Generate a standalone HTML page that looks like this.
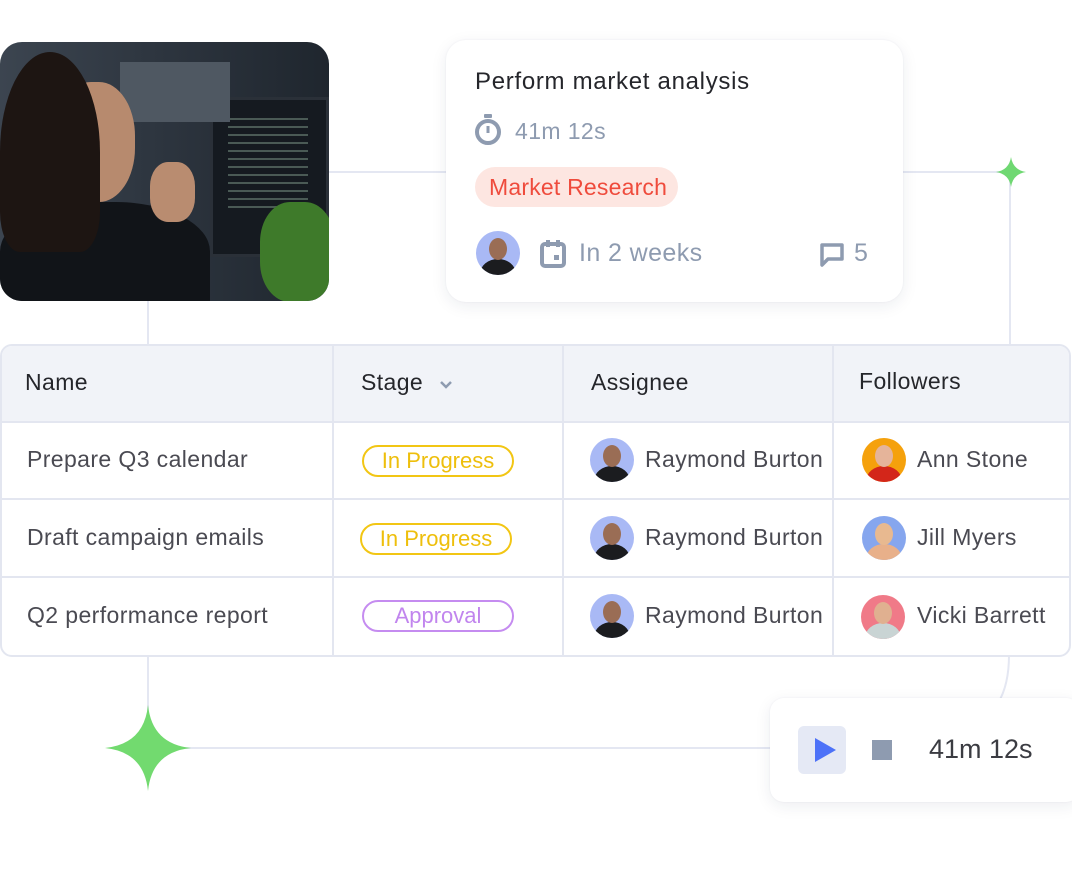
<!DOCTYPE html>
<html><head><style>
*{margin:0;padding:0;box-sizing:border-box}
body{width:1072px;height:878px;background:#fff;position:relative;overflow:hidden;font-family:"Liberation Sans",sans-serif}
.a{position:absolute}
.ln{position:absolute;background:#e4e7f2}
.av{position:absolute;width:44px;height:44px;border-radius:50%;overflow:hidden}
.av .f{position:absolute;left:13px;top:7px;width:18px;height:22px;border-radius:50%}
.av .b{position:absolute;left:4px;top:28px;width:36px;height:30px;border-radius:50%}
.t{position:absolute;font-size:23px;color:#4a4a52;white-space:nowrap;letter-spacing:0.4px}
.pill{position:absolute;height:32px;border:2px solid;border-radius:16px;font-size:22px;text-align:center;line-height:28px}
.vl{position:absolute;top:344px;width:2px;height:312px;background:#e3e6f0}
.hl{position:absolute;left:0;width:1070px;height:2px;background:#e3e6f0}
</style></head><body>
<div class="ln" style="left:329px;top:171px;width:120px;height:2px"></div>
<div class="ln" style="left:900px;top:171px;width:112px;height:2px"></div>
<div class="ln" style="left:1009px;top:172px;width:2px;height:174px"></div>
<div class="ln" style="left:147px;top:300px;width:2px;height:46px"></div>
<div class="ln" style="left:147px;top:656px;width:2px;height:92px"></div>
<div class="ln" style="left:148px;top:747px;width:625px;height:2px"></div>
<svg class="a" style="left:990px;top:655px" width="30" height="50"><path d="M19 0 Q19 30 8 48" stroke="#e4e7f2" stroke-width="2" fill="none"/></svg>
<svg class="a" style="left:996px;top:157px" width="30" height="30"><path d="M15 0 Q17 13 30 15 Q17 17 15 30 Q13 17 0 15 Q13 13 15 0Z" fill="#6fd872"/></svg>
<svg class="a" style="left:105px;top:705px" width="86" height="86"><path d="M43 0 Q47 39 86 43 Q47 47 43 86 Q39 47 0 43 Q39 39 43 0Z" fill="#72da6f"/></svg>
<div class="a" style="left:0;top:42px;width:329px;height:259px;border-radius:22px;overflow:hidden;background:linear-gradient(90deg,#3c4550 0%,#2e3640 45%,#1f262e 100%)">
 <div class="a" style="left:210px;top:55px;width:119px;height:160px;background:#151a20;border:3px solid #2a3038"></div>
 <div class="a" style="left:228px;top:70px;width:80px;height:100px;background:repeating-linear-gradient(#151a20 0 6px,#4a5a55 6px 8px)"></div>
 <div class="a" style="left:120px;top:20px;width:110px;height:60px;background:#4f5862"></div>
 <div class="a" style="left:260px;top:160px;width:75px;height:100px;border-radius:40%;background:#3e7a2a"></div>
 <div class="a" style="left:0;top:160px;width:210px;height:110px;border-radius:45% 45% 0 0;background:#111418"></div>
 <div class="a" style="left:55px;top:40px;width:80px;height:120px;border-radius:45%;background:#b78a6e"></div>
 <div class="a" style="left:0;top:10px;width:100px;height:200px;border-radius:50% 50% 20% 20%;background:#1d1512"></div>
 <div class="a" style="left:150px;top:120px;width:45px;height:60px;border-radius:40%;background:#b98c70"></div>
</div>
<div class="a" style="left:446px;top:40px;width:457px;height:262px;border-radius:20px;background:#fff;box-shadow:0 4px 16px rgba(30,40,80,.08),0 0 2px rgba(30,40,80,.06)"></div>
<div class="t" style="left:475px;top:68px;font-size:24px;color:#25262b;letter-spacing:0.7px">Perform market analysis</div>
<svg class="a" style="left:474px;top:114px" width="28" height="32"><rect x="10" y="0" width="8" height="4" rx="1" fill="#8e9bb0"/><circle cx="14" cy="18" r="11" stroke="#8e9bb0" stroke-width="4" fill="none"/><rect x="12.5" y="12" width="3" height="7" fill="#8e9bb0"/></svg>
<div class="t" style="left:515px;top:118px;color:#8e9bb0">41m 12s</div>
<div class="a" style="left:475px;top:167px;width:203px;height:40px;border-radius:20px;background:#fde6e1"></div>
<div class="t" style="left:489px;top:174px;color:#ef4b3c;letter-spacing:0.2px">Market Research</div>
<div class="av" style="left:476px;top:231px;background:#a9b9f5"><div class="b" style="background:#1b1c1f"></div><div class="f" style="background:#9a6d55"></div></div>
<svg class="a" style="left:540px;top:240px" width="28" height="28"><rect x="2" y="4" width="22" height="22" rx="3" stroke="#8e9bb0" stroke-width="4" fill="none"/><rect x="6" y="0" width="4" height="7" fill="#8e9bb0"/><rect x="16" y="0" width="4" height="7" fill="#8e9bb0"/><rect x="14" y="15" width="5" height="5" fill="#8e9bb0"/></svg>
<div class="t" style="left:579px;top:239px;font-size:25px;color:#8e9bb0">In 2 weeks</div>
<svg class="a" style="left:820px;top:243px" width="26" height="24"><path d="M2 2H22V16H8L2 22Z" stroke="#8e9bb0" stroke-width="3.5" fill="none" stroke-linejoin="round"/></svg>
<div class="t" style="left:854px;top:239px;font-size:25px;color:#8e9bb0">5</div>
<div class="a" style="left:0;top:344px;width:1071px;height:313px;border:2px solid #e3e6f0;border-radius:12px;background:#fff;overflow:hidden">
 <div class="a" style="left:0;top:0;width:1071px;height:77px;background:#f1f3f8"></div>
</div>
<div class="hl" style="top:421px"></div>
<div class="hl" style="top:498px"></div>
<div class="hl" style="top:576px"></div>
<div class="vl" style="left:332px"></div>
<div class="vl" style="left:562px"></div>
<div class="vl" style="left:832px"></div>
<div class="t" style="left:25px;top:369px;color:#25262b">Name</div>
<div class="t" style="left:361px;top:369px;color:#25262b">Stage</div>
<svg class="a" style="left:439px;top:380px" width="14" height="10"><path d="M2 2L7 7L12 2" stroke="#8e9bb0" stroke-width="2.5" fill="none"/></svg>
<div class="t" style="left:591px;top:369px;color:#25262b">Assignee</div>
<div class="t" style="left:859px;top:368px;color:#25262b">Followers</div>
<div class="t" style="left:27px;top:446px">Prepare Q3 calendar</div>
<div class="t" style="left:27px;top:524px">Draft campaign emails</div>
<div class="t" style="left:27px;top:602px">Q2 performance report</div>
<div class="pill" style="left:362px;top:445px;width:152px;border-color:#f2c614;color:#eebf0c">In Progress</div>
<div class="pill" style="left:360px;top:523px;width:152px;border-color:#f2c614;color:#eebf0c">In Progress</div>
<div class="pill" style="left:362px;top:600px;width:152px;border-color:#c58cf0;color:#c185ee">Approval</div>
<div class="av" style="left:590px;top:438px;background:#a9b9f5"><div class="b" style="background:#1b1c1f"></div><div class="f" style="background:#9a6d55"></div></div>
<div class="av" style="left:590px;top:516px;background:#a9b9f5"><div class="b" style="background:#1b1c1f"></div><div class="f" style="background:#9a6d55"></div></div>
<div class="av" style="left:590px;top:594px;background:#a9b9f5"><div class="b" style="background:#1b1c1f"></div><div class="f" style="background:#9a6d55"></div></div>
<div class="t" style="left:645px;top:446px">Raymond Burton</div>
<div class="t" style="left:645px;top:524px">Raymond Burton</div>
<div class="t" style="left:645px;top:602px">Raymond Burton</div>
<div class="av" style="left:862px;top:438px;background:#f5a10c"><div class="b" style="background:#d3261a"></div><div class="f" style="background:#e5b49a"></div></div>
<div class="av" style="left:862px;top:516px;background:#86a6ee"><div class="b" style="background:#e8b08a"></div><div class="f" style="background:#e8b990"></div></div>
<div class="av" style="left:861px;top:595px;background:#f07a88"><div class="b" style="background:#c9d4d4"></div><div class="f" style="background:#e0b090"></div></div>
<div class="t" style="left:917px;top:446px">Ann Stone</div>
<div class="t" style="left:917px;top:524px">Jill Myers</div>
<div class="t" style="left:917px;top:602px">Vicki Barrett</div>
<div class="a" style="left:770px;top:698px;width:310px;height:104px;border-radius:14px;background:#fff;box-shadow:0 4px 16px rgba(30,40,80,.08),0 0 2px rgba(30,40,80,.06)"></div>
<div class="a" style="left:798px;top:726px;width:48px;height:48px;border-radius:6px;background:#e5e9f5"></div>
<svg class="a" style="left:815px;top:738px" width="22" height="24"><path d="M0 0L21 12L0 24Z" fill="#4d72f8"/></svg>
<div class="a" style="left:872px;top:740px;width:20px;height:20px;background:#8e9bb0"></div>
<div class="t" style="left:929px;top:734px;font-size:27px;color:#3b3c42;letter-spacing:0">41m 12s</div>
</body></html>
